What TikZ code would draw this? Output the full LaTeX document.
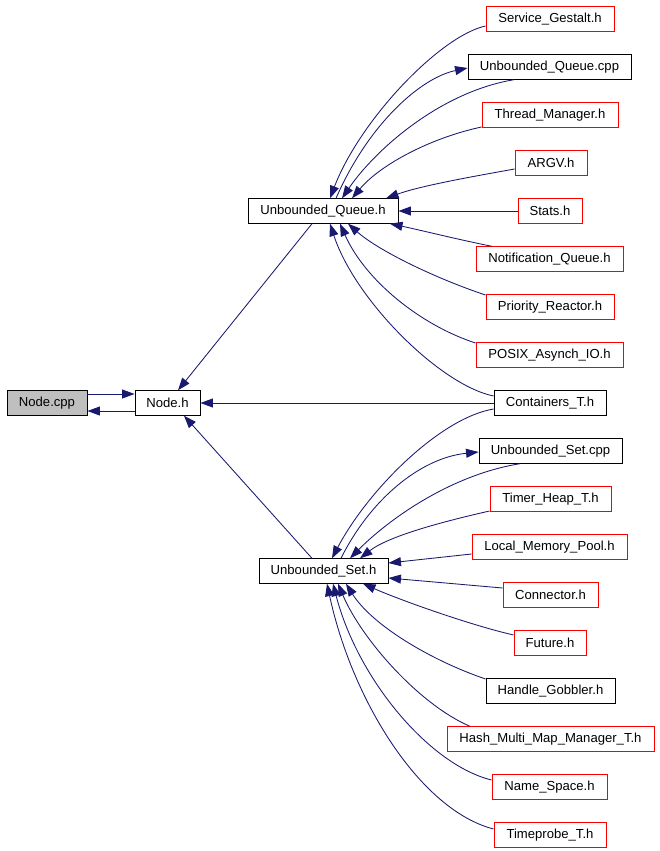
\documentclass[tikz,border=0pt]{standalone}
\usepackage{fontspec}
\setmainfont{Liberation Sans}
\usetikzlibrary{arrows.meta,calc}
\definecolor{edgeblue}{RGB}{25,25,112}
\definecolor{nodegray}{RGB}{191,191,191}
\begin{document}
\begin{tikzpicture}[x=1pt,y=-1pt,
  box/.style={draw=black,line width=0.9pt,fill=white,minimum height=24.5pt,inner ysep=0pt,inner xsep=0pt,
    font=\fontsize{13.1}{15}\selectfont,anchor=center},
  redbox/.style={box,draw=red},
  graybox/.style={box,fill=nodegray},
  dep/.style={draw=edgeblue,line width=0.85pt,-{Triangle[length=12.5pt,width=9pt]}}]
\useasboundingbox (0,0) rectangle (659,851);
\fill[white] (0,0) rectangle (659,851);

% nodes
\node[graybox,minimum width=80pt] (nodecpp) at (47,403) {Node.cpp};
\node[box,minimum width=65pt] (nodeh) at (167.5,403) {Node.h};
\node[box,minimum width=150pt] (uqh) at (323,211) {Unbounded\_Queue.h};
\node[box,minimum width=129pt] (ush) at (323.5,571) {Unbounded\_Set.h};

\node[redbox,minimum width=128pt] (sg) at (550,19) {Service\_Gestalt.h};
\node[box,minimum width=163pt] (uqcpp) at (549.5,67) {Unbounded\_Queue.cpp};
\node[redbox,minimum width=136pt] (tm) at (550,115) {Thread\_Manager.h};
\node[redbox,minimum width=72pt] (argv) at (551,163) {ARGV.h};
\node[redbox,minimum width=64pt] (stats) at (550,211) {Stats.h};
\node[redbox,minimum width=147pt] (nq) at (549.5,259) {Notification\_Queue.h};
\node[redbox,minimum width=128pt] (pr) at (550,307) {Priority\_Reactor.h};
\node[redbox,minimum width=147pt] (posix) at (549.5,355) {POSIX\_Asynch\_IO.h};
\node[box,minimum width=112pt] (cont) at (550,403) {Containers\_T.h};
\node[box,minimum width=143pt] (uscpp) at (550.5,451) {Unbounded\_Set.cpp};
\node[redbox,minimum width=121pt] (th) at (550.5,499) {Timer\_Heap\_T.h};
\node[redbox,minimum width=155pt] (lmp) at (549.5,547) {Local\_Memory\_Pool.h};
\node[redbox,minimum width=95pt] (conn) at (550.5,595) {Connector.h};
\node[redbox,minimum width=72pt] (fut) at (550,643) {Future.h};
\node[box,minimum width=129pt] (hg) at (550.5,691) {Handle\_Gobbler.h};
\node[redbox,minimum width=207pt] (hash) at (550.5,739) {Hash\_Multi\_Map\_Manager\_T.h};
\node[redbox,minimum width=115pt] (ns) at (549.5,787) {Name\_Space.h};
\node[redbox,minimum width=112pt] (tp) at (550,835) {Timeprobe\_T.h};

% Node.cpp <-> Node.h
\draw[dep] ($(nodecpp.east)+(0,-9)$) -- ($(nodeh.west)+(0,-9)$);
\draw[dep] ($(nodeh.west)+(0,8)$) -- ($(nodecpp.east)+(0,8)$);

% into Node.h
\draw[dep] ($(uqh.south)+(-11,0)$) -- ($(nodeh.north)+(10.5,0)$);
\draw[dep] (cont.west) -- (nodeh.east);
\draw[dep] ($(ush.north)+(-11.5,0)$) -- ($(nodeh.south)+(16.5,0)$);

% into Unbounded_Queue.h
\draw[dep] ($(sg.west)+(0,7)$) .. controls (440,36) and (360,120) .. ($(uqh.north)+(7,0)$);
\draw[dep] ($(uqcpp.south)+(-35.5,0)$) .. controls (440,92) and (375,150) .. ($(uqh.north)+(19,0)$);
\draw[dep] ($(uqh.north)+(13,0)$) .. controls (368,125) and (420,78) .. ($(uqcpp.west)+(0,1)$);
\draw[dep] ($(tm.west)+(0,12)$) .. controls (430,138) and (380,165) .. ($(uqh.north)+(29,0)$);
\draw[dep] ($(argv.west)+(0,6)$) .. controls (470,177) and (420,186) .. ($(uqh.north)+(63,0)$);
\draw[dep] (stats.west) -- (uqh.east);
\draw[dep] ($(nq.north)+(-57.5,0)$) .. controls (460,240) and (420,230) .. ($(uqh.south)+(67,0)$);
\draw[dep] ($(pr.west)+(0,-12)$) .. controls (440,280) and (380,252) .. ($(uqh.south)+(25,0)$);
\draw[dep] ($(posix.west)+(0,-12)$) .. controls (420,325) and (365,280) .. ($(uqh.south)+(17,0)$);
\draw[dep] ($(cont.west)+(0,-7)$) .. controls (440,385) and (355,300) .. ($(uqh.south)+(7,0)$);

% into Unbounded_Set.h
\draw[dep] ($(cont.west)+(0,6)$) .. controls (440,418) and (368,490) .. ($(ush.north)+(8.5,0)$);
\draw[dep] ($(ush.north)+(17.5,0)$) .. controls (370,500) and (420,458) .. ($(uscpp.west)+(0,1)$);
\draw[dep] ($(uscpp.south)+(-30.5,0)$) .. controls (450,475) and (388,520) .. ($(ush.north)+(26.5,0)$);
\draw[dep] ($(th.west)+(0,12)$) .. controls (450,520) and (390,535) .. ($(ush.north)+(36.5,0)$);
\draw[dep] ($(lmp.west)+(0,7)$) -- ($(ush.east)+(0,-8)$);
\draw[dep] ($(conn.west)+(0,-7)$) -- ($(ush.east)+(0,7)$);
\draw[dep] ($(fut.west)+(0,-8)$) .. controls (470,625) and (400,600) .. ($(ush.south)+(39.5,0)$);
\draw[dep] ($(hg.west)+(0,-12)$) .. controls (430,660) and (372,625) .. ($(ush.south)+(22.5,0)$);
\draw[dep] ($(hash.north)+(-80.5,0)$) .. controls (420,705) and (362,640) .. ($(ush.south)+(14.5,0)$);
\draw[dep] ($(ns.west)+(0,-7)$) .. controls (430,765) and (358,680) .. ($(ush.south)+(9.5,0)$);
\draw[dep] ($(tp.west)+(0,-6)$) .. controls (420,810) and (352,700) .. ($(ush.south)+(3.5,0)$);
\end{tikzpicture}
\end{document}
